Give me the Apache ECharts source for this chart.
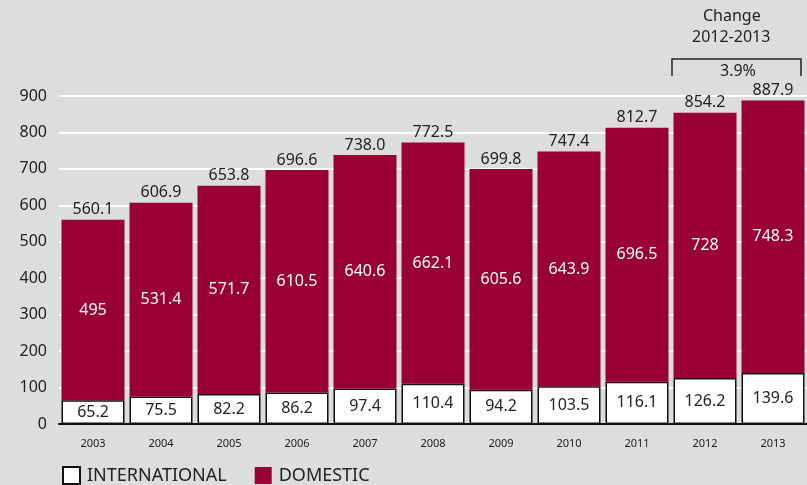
<!DOCTYPE html>
<html>
<head>
<meta charset="utf-8">
<script src="https://cdn.jsdelivr.net/npm/echarts@6/dist/echarts.min.js"></script>
<style>
  html, body { margin: 0; padding: 0; background: #dcdddf; }
  #chart { width: 807px; height: 485px; }
</style>
</head>
<body>
<div id="chart"></div>
<script>
const years = ['2003', '2004', '2005', '2006', '2007', '2008', '2009', '2010', '2011', '2012', '2013']
const international = [65.2, 75.5, 82.2, 86.2, 97.4, 110.4, 94.2, 103.5, 116.1, 126.2, 139.6]
const domestic = [495, 531.4, 571.7, 610.5, 640.6, 662.1, 605.6, 643.9, 696.5, 728, 748.3]
const totals = [560.1, 606.9, 653.8, 696.6, 738.0, 772.5, 699.8, 747.4, 812.7, 854.2, 887.9]

const font = 'Noto Sans'
const chart = echarts.init(document.getElementById('chart'))

chart.setOption({
    backgroundColor: '#dcdddf',
    animation: false,
    textStyle: { fontFamily: font },
    grid: { left: 59, right: 0, top: 96, bottom: 61 },
    legend: {
        left: 57, top: 461,
        icon: 'rect',
        itemWidth: 17, itemHeight: 17, itemGap: 28,
        data: ['INTERNATIONAL', 'DOMESTIC'],
        textStyle: { fontSize: 18, color: '#222', fontFamily: font, padding: [0, 0, 0, 2] }
    },
    xAxis: {
        type: 'category',
        data: years,
        axisLine: { lineStyle: { color: '#111', width: 2 } },
        axisTick: { show: false },
        axisLabel: { fontSize: 11, color: '#222', margin: 14 }
    },
    yAxis: {
        type: 'value',
        min: 0, max: 900, interval: 100,
        axisLine: { show: false },
        axisTick: { show: false },
        splitLine: { lineStyle: { color: '#ffffff', width: 2 } },
        axisLabel: { fontSize: 16, color: '#222', margin: 12 }
    },
    series: [
        {
            name: 'INTERNATIONAL',
            type: 'bar',
            stack: 'pax',
            barWidth: 63,
            data: international,
            itemStyle: { color: '#ffffff', borderColor: '#111', borderWidth: 1.5 },
            label: { show: true, position: 'inside', color: '#222', fontSize: 16, fontFamily: font }
        },
        {
            name: 'DOMESTIC',
            type: 'bar',
            stack: 'pax',
            data: domestic,
            itemStyle: { color: '#990033' },
            label: { show: true, position: 'inside', color: '#ffffff', fontSize: 16, fontFamily: font }
        },
        {
            name: 'total',
            type: 'bar',
            stack: 'pax',
            data: totals.map(() => 0),
            itemStyle: { color: 'transparent' },
            label: {
                show: true, position: 'top', distance: 2,
                color: '#222', fontSize: 16, fontFamily: font,
                formatter: p => totals[p.dataIndex].toFixed(1)
            }
        }
    ],
    graphic: [
        { type: 'text', left: 703, top: 8, style: { text: 'Change', fontSize: 16, fontFamily: font, fill: '#222' } },
        { type: 'text', left: 692, top: 29, style: { text: '2012-2013', fontSize: 16, fontFamily: font, fill: '#222' } },
        { type: 'polyline', shape: { points: [[672, 76], [672, 59], [801, 59], [801, 76]] }, style: { stroke: '#222', lineWidth: 1.5, fill: null } },
        { type: 'text', left: 720, top: 63, style: { text: '3.9%', fontSize: 16, fontFamily: font, fill: '#222' } }
    ]
})
</script>
</body>
</html>
